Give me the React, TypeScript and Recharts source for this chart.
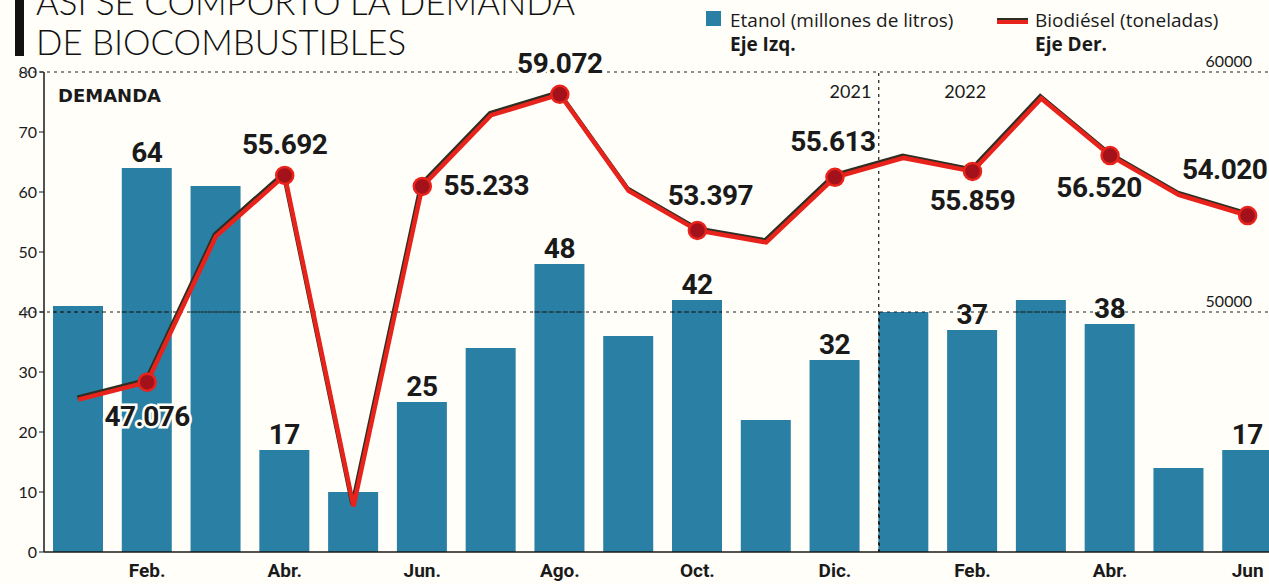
import React from 'react';
import { ComposedChart, Bar, Line, XAxis, YAxis, ReferenceLine, LabelList } from 'recharts';

// values (Ene 2021 - Jun 2022)
const periods = ['2021-01', '2021-02', '2021-03', '2021-04', '2021-05', '2021-06', '2021-07', '2021-08', '2021-09',
  '2021-10', '2021-11', '2021-12', '2022-01', '2022-02', '2022-03', '2022-04', '2022-05', '2022-06'];
const tickLabels = ['', 'Feb.', '', 'Abr.', '', 'Jun.', '', 'Ago.', '', 'Oct.', '', 'Dic.', '', 'Feb.', '', 'Abr.', '', 'Jun'];
const etanol = [41, 64, 61, 17, 10, 25, 34, 48, 36, 42, 22, 32, 40, 37, 42, 38, 14, 17];
const biodiesel = [46350, 47076, 53150, 55692, 41900, 55233, 58200, 59072, 55050, 53397, 52900, 55613, 56420, 55859, 58900, 56520, 54875, 54020];
const leftTicks = [0, 10, 20, 30, 40, 50, 60, 70, 80];
const rightTicks = [50000, 60000];
const years = ['2021', '2022'];
const gridLeft = 40; // left-axis value where the 50000 dotted line runs
const yearStart = '2022-01';

// where each biodiesel value label sits relative to its marker [dx, baseline dy]
const lineLabelOffsets: Record<number, [number, number]> = {
  1: [0, 44], 3: [0, -21], 5: [64, 9], 7: [0, -21], 9: [13, -25],
  11: [-2, -26], 13: [0, 39], 15: [-11, 41], 17: [-23, -37],
};

const data = periods.map((p, i) => ({ period: p, etanol: etanol[i], biodiesel: biodiesel[i] }));

const BAR = '#2a80a4';
const RED = '#e8231c';
const INK = '#1a1a1a';
const BAR_SIZE = 50;
const DASH = '3 4';

const fmt = (v: number) => `${Math.floor(v / 1000)}.${String(v % 1000).padStart(3, '0')}`;

// bar plus the dotted guides that the print lays over the bars
const BarShape = (props: any) => {
  const { x, y, width, height, value, index } = props;
  const bottom = y + height;
  const gy = bottom - (height * gridLeft) / value;
  return (
    <g>
      <rect x={x} y={y} width={width} height={height} fill={BAR} />
      {value > gridLeft && (
        <line x1={x} y1={gy} x2={x + width} y2={gy} stroke={INK} strokeDasharray={DASH} strokeWidth={1.2} />
      )}
      {periods[index] === yearStart && (
        <line x1={x + 1} y1={y} x2={x + 1} y2={bottom} stroke={INK} strokeDasharray={DASH} strokeWidth={1.2} />
      )}
    </g>
  );
};

const BarValue = (props: any) => {
  const { x, y, width, value, index } = props;
  if (index % 2 !== 1) return null;
  return (
    <text x={x + width / 2} y={y - 6} textAnchor="middle" fontFamily="Roboto" fontWeight={700} fontSize={28} letterSpacing={-0.5} fill={INK}>
      {value}
    </text>
  );
};

const LineValue = (props: any) => {
  const { x, y, value, index } = props;
  const off = lineLabelOffsets[index];
  if (!off) return null;
  return (
    <text x={x + off[0]} y={y + off[1]} textAnchor="middle" fontFamily="Roboto" fontWeight={700} fontSize={28} letterSpacing={-0.5}
      fill={INK} stroke="#fffef9" strokeWidth={5} paintOrder="stroke">
      {fmt(value)}
    </text>
  );
};

const Marker = (props: any) => {
  const { cx, cy, index } = props;
  if (index % 2 !== 1) return <g key={index} />;
  return <circle key={index} cx={cx} cy={cy} r={8.5} fill="#a3121a" stroke={RED} strokeWidth={2.5} />;
};

const BottomTick = (props: any) => {
  const { x, y, index } = props;
  return (
    <text x={x} y={y + 17} textAnchor="middle" fontFamily="Roboto" fontWeight={700} fontSize={19} fill={INK}>{tickLabels[index]}</text>
  );
};

// dotted grid line that stops short of the right edge, with the right-axis value above it
const gridShape = (p: any) => (
  <line x1={p.x1} y1={p.y1} x2={p.x2 - 27} y2={p.y2} stroke={INK} strokeDasharray={DASH} strokeWidth={1.2} />
);
const gridLabel = (text: number) => (p: any) => {
  const vb = p.viewBox;
  return (
    <text x={vb.x + vb.width - 30} y={vb.y - 5} textAnchor="end" fontFamily="Lato" fontSize={16} fill={INK}>{text}</text>
  );
};

// year divider sits on the left edge of the first 2022 bar
const yearShape = (p: any) => {
  const gap = 9.4;
  return <line x1={p.x1 + gap} y1={p.y1} x2={p.x2 + gap} y2={p.y2} stroke={INK} strokeDasharray={DASH} strokeWidth={1.2} />;
};
const YearLabels = (props: any) => {
  const { viewBox } = props;
  const x = viewBox.x;
  const y = viewBox.y;
  return (
    <g fontFamily="Lato" fontSize={18} fill={INK}>
      <text x={x + 2} y={y + 26} textAnchor="end">{years[0]}</text>
      <text x={x + 75} y={y + 26} textAnchor="start">{years[1]}</text>
    </g>
  );
};

export default function App() {
  return (
    <div style={{ position: 'absolute', left: 0, top: 0, width: 1269, height: 584, overflow: 'hidden', background: '#fffef9' }}>
      <style>{`.bio-line .recharts-line-curve { filter: drop-shadow(-1px -1.5px 0 #2e2e22); }`}</style>
      <ComposedChart width={1282} height={584} data={data} margin={{ top: 72, right: 0, bottom: 0, left: 0 }}>
        <XAxis xAxisId="cat" dataKey="period" height={32} interval={0} tickLine={false}
          axisLine={{ stroke: INK, strokeWidth: 1.5 }} tick={<BottomTick />} />
        <YAxis yAxisId="left" domain={[0, 80]} ticks={leftTicks} width={44} tickSize={5} tickMargin={2}
          axisLine={{ stroke: INK, strokeWidth: 1.5 }} tickLine={{ stroke: INK }}
          tick={{ fontFamily: 'Lato', fontSize: 16, fill: INK }} />
        <YAxis yAxisId="right" orientation="right" domain={[40000, 60000]} ticks={rightTicks} width={0} hide />

        <Bar xAxisId="cat" yAxisId="left" dataKey="etanol" barSize={BAR_SIZE} fill={BAR} shape={BarShape} isAnimationActive={false}>
          <LabelList dataKey="etanol" content={<BarValue />} />
        </Bar>

        {rightTicks.map((t) => (
          <ReferenceLine key={t} xAxisId="cat" yAxisId="right" y={t} shape={gridShape} label={gridLabel(t)} />
        ))}
        <ReferenceLine xAxisId="cat" yAxisId="left" x={yearStart} position="start" shape={yearShape} label={<YearLabels />} />

        <Line xAxisId="cat" yAxisId="right" className="bio-line" dataKey="biodiesel" type="linear" stroke={RED} strokeWidth={4.5}
          dot={Marker} activeDot={false} isAnimationActive={false}>
          <LabelList dataKey="biodiesel" content={<LineValue />} />
        </Line>
      </ComposedChart>

      <svg width={1269} height={584} style={{ position: 'absolute', left: 0, top: 0, pointerEvents: 'none' }}>
        <rect x={15} y={0} width={9} height={56} fill="#111" />
        <g fontFamily="Lato" fontWeight={300} fontSize={35} fill="#111">
          <text x={36} y={15} textLength={539} lengthAdjust="spacingAndGlyphs">ASÍ SE COMPORTÓ LA DEMANDA</text>
          <text x={36} y={55} textLength={370} lengthAdjust="spacingAndGlyphs">DE BIOCOMBUSTIBLES</text>
        </g>
        <text x={58} y={102} fontFamily="'DejaVu Sans'" fontWeight={700} fontSize={18} fill={INK}>DEMANDA</text>

        <rect x={706} y={11} width={15} height={15} fill={BAR} />
        <text x={730} y={27} fontFamily="'Open Sans'" fontSize={19} fill={INK}>Etanol (millones de litros)</text>
        <text x={730} y={51} fontFamily="'Open Sans'" fontWeight={700} fontSize={19} fill={INK}>Eje Izq.</text>

        <line x1={997} y1={22} x2={1028} y2={22} stroke={RED} strokeWidth={4} style={{ filter: 'drop-shadow(0 -1.5px 0 #2e2e22)' }} />
        <text x={1035} y={27} fontFamily="'Open Sans'" fontSize={19} fill={INK}>Biodiésel (toneladas)</text>
        <text x={1035} y={51} fontFamily="'Open Sans'" fontWeight={700} fontSize={19} fill={INK}>Eje Der.</text>
      </svg>
    </div>
  );
}
